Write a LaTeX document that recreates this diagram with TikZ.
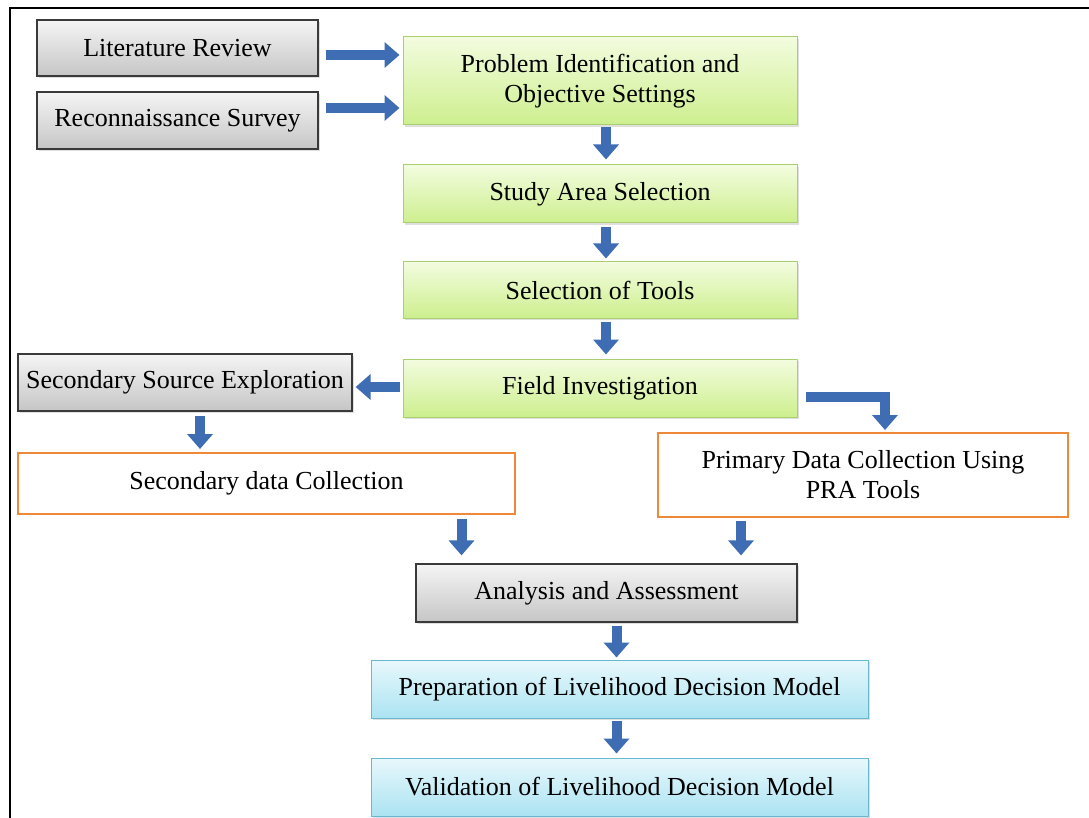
\documentclass[tikz,border=0pt]{standalone}
\usepackage{fontspec}
\setmainfont{Liberation Serif}
\usetikzlibrary{arrows.meta,shadows}
\definecolor{arrowblue}{HTML}{3E6DB3}
\definecolor{grayborder}{HTML}{3A3A3A}
\definecolor{greenborder}{HTML}{A9CF6E}
\definecolor{blueborder}{HTML}{6AB8CE}
\definecolor{orangeborder}{HTML}{F0883A}
\definecolor{greentop}{HTML}{F3FCDF}
\definecolor{greenbot}{HTML}{CDEF8E}
\definecolor{bluetop}{HTML}{E8F8FC}
\definecolor{bluebot}{HTML}{ABE3F2}
\tikzset{
  base/.style={rectangle, inner sep=2pt, align=center, font=\fontsize{26}{30}\selectfont,
    drop shadow={opacity=0.25, shadow xshift=2pt, shadow yshift=-2pt}},
  graybox/.style={base, draw=grayborder, line width=1.2pt, top color=gray!8, bottom color=gray!45},
  greenbox/.style={base, draw=greenborder, line width=1pt, top color=greentop, bottom color=greenbot},
  bluebox/.style={base, draw=blueborder, line width=1pt, top color=bluetop, bottom color=bluebot},
  orangebox/.style={rectangle, inner sep=2pt, align=center, font=\fontsize{26}{30}\selectfont, draw=orangeborder, line width=2pt, fill=white},
  bigarrow/.style={draw=arrowblue, line width=10pt, -{Triangle[width=25pt,length=15pt]}},
}
\begin{document}
\begin{tikzpicture}[x=1pt,y=-1pt]
\useasboundingbox (0,0) rectangle (1089,818);
\fill[white] (0,0) rectangle (1089,818);
\draw[line width=1.5pt] (10,818) -- (10,8) -- (1089,8);

\node[graybox, minimum width=281pt, minimum height=56pt] (lit) at (177.5,48) {Literature Review};
\node[graybox, minimum width=281pt, minimum height=57pt] (rec) at (177.5,120.5) {Reconnaissance Survey};
\node[greenbox, minimum width=394pt, minimum height=88pt] (prob) at (600,81) {Problem Identification and\\Objective Settings};
\node[greenbox, minimum width=394pt, minimum height=58pt] (study) at (600,194) {Study Area Selection};
\node[greenbox, minimum width=394pt, minimum height=56pt] (tools) at (600,290) {Selection of Tools};
\node[greenbox, minimum width=394pt, minimum height=58pt] (field) at (600,388) {Field Investigation};
\node[graybox, minimum width=334pt, minimum height=57pt] (sse) at (185,382.5) {Secondary Source Exploration};
\node[orangebox, minimum width=497pt, minimum height=61pt] (sdc) at (266.5,483.5) {Secondary data Collection};
\node[orangebox, minimum width=410pt, minimum height=84pt] (prim) at (863,475) {Primary Data Collection Using\\PRA Tools};
\node[graybox, minimum width=381pt, minimum height=58pt] (ana) at (606.5,593) {Analysis and Assessment};
\node[bluebox, minimum width=497pt, minimum height=58pt] (prep) at (619.5,689) {Preparation of Livelihood Decision Model};
\node[bluebox, minimum width=497pt, minimum height=58pt] (val) at (619.5,787) {Validation of Livelihood Decision Model};

\draw[bigarrow, shorten <=7pt, shorten >=3pt] (lit.east |- 0,55) -- (prob.west |- 0,55);
\draw[bigarrow, shorten <=7pt, shorten >=3pt] (rec.east |- 0,108) -- (prob.west |- 0,108);
\draw[bigarrow, shorten <=2pt, shorten >=5pt] ([xshift=6pt]prob.south) -- ([xshift=6pt]study.north);
\draw[bigarrow, shorten <=4pt, shorten >=3pt] ([xshift=6pt]study.south) -- ([xshift=6pt]tools.north);
\draw[bigarrow, shorten <=3pt, shorten >=4pt] ([xshift=6pt]tools.south) -- ([xshift=6pt]field.north);
\draw[bigarrow, shorten <=3pt, shorten >=3pt] (field.west |- 0,387) -- (sse.east |- 0,387);
\draw[bigarrow, line join=miter, shorten <=8pt, shorten >=2pt] (field.east |- 0,397) -| ([xshift=22pt]prim.north);
\draw[bigarrow, shorten <=4pt, shorten >=3pt] ([xshift=15pt]sse.south) -- ([xshift=15pt]sse.south |- sdc.north);
\draw[bigarrow, shorten <=4pt, shorten >=8pt] ([xshift=195pt]sdc.south) -- ([xshift=195pt]sdc.south |- ana.north);
\draw[bigarrow, shorten <=3pt, shorten >=8pt] ([xshift=-122pt]prim.south) -- ([xshift=-122pt]prim.south |- ana.north);
\draw[bigarrow, shorten <=3pt, shorten >=2pt] ([xshift=10pt]ana.south) -- ([xshift=10pt]ana.south |- prep.north);
\draw[bigarrow, shorten <=2pt, shorten >=4pt] ([xshift=-3pt]prep.south) -- ([xshift=-3pt]val.north);
\end{tikzpicture}
\end{document}
